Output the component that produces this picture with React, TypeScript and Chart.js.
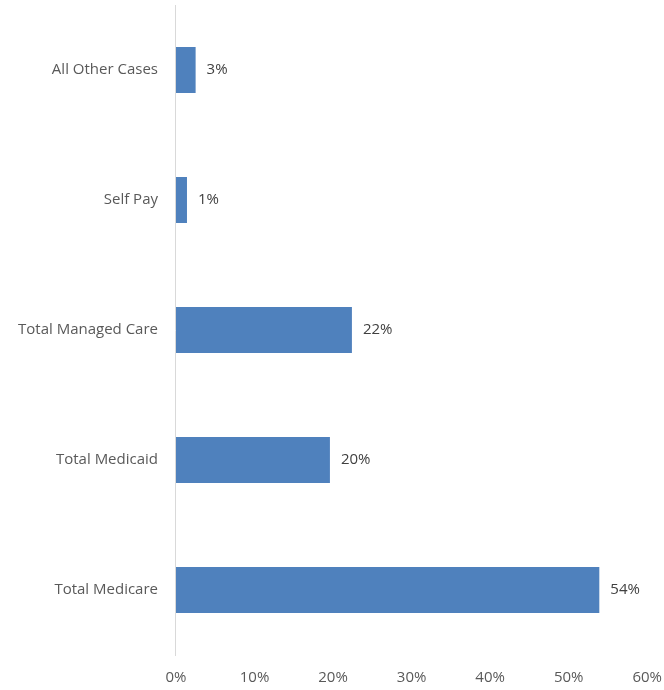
import React, { useEffect, useRef } from "react";
import { Chart, registerables } from "chart.js";

Chart.register(...registerables);

const categories = ["All Other Cases", "Self Pay", "Total Managed Care", "Total Medicaid", "Total Medicare"];
const values = [2.5, 1.4, 22.4, 19.6, 53.9];
const valueLabels = ["3%", "1%", "22%", "20%", "54%"];
const xTicks = [0, 10, 20, 30, 40, 50, 60];

const FONT = "'Open Sans', 'Noto Sans', sans-serif";

const barLabelPlugin = {
  id: "barLabels",
  afterDatasetsDraw(chart: any) {
    const ctx = chart.ctx;
    const meta = chart.getDatasetMeta(0);
    ctx.save();
    ctx.font = `15px ${FONT}`;
    ctx.fillStyle = "#404040";
    ctx.textAlign = "left";
    ctx.textBaseline = "middle";
    meta.data.forEach((bar: any, i: number) => {
      ctx.fillText(valueLabels[i], bar.x + 11, bar.y);
    });
    ctx.restore();
  },
};

export default function App() {
  const ref = useRef<HTMLCanvasElement | null>(null);
  useEffect(() => {
    if (!ref.current) return;
    const chart = new Chart(ref.current, {
      type: "bar",
      data: {
        labels: categories,
        datasets: [
          {
            data: values,
            backgroundColor: "#4f81bd",
            barPercentage: 0.355,
            categoryPercentage: 1,
          },
        ],
      },
      options: {
        indexAxis: "y",
        animation: false,
        responsive: false,
        maintainAspectRatio: false,
        layout: { padding: { top: 0, right: 9, bottom: 1, left: 0 } },
        plugins: { legend: { display: false }, tooltip: { enabled: false } },
        scales: {
          x: {
            min: 0,
            max: 60,
            afterBuildTicks: (axis: any) => {
              axis.ticks = xTicks.map((v) => ({ value: v }));
            },
            ticks: {
              callback: (v: any) => `${v}%`,
              color: "#595959",
              font: { size: 15, family: FONT },
              padding: 14,
              maxRotation: 0,
            },
            grid: { display: false, drawTicks: false },
            border: { display: false },
          },
          y: {
            ticks: {
              color: "#595959",
              font: { size: 15, family: FONT },
              padding: 18,
            },
            grid: { display: false, drawTicks: false },
            border: { display: true, color: "#d9d9d9", width: 1 },
          },
        },
      },
      plugins: [barLabelPlugin],
    });
    return () => chart.destroy();
  }, []);
  return (
    <div style={{ position: "absolute", left: 0, top: 0, width: 664, height: 690, overflow: "hidden" }}>
      <canvas
        ref={ref}
        width={676}
        height={724}
        style={{ position: "absolute", left: 0, top: -22, width: 676, height: 724 }}
      />
    </div>
  );
}
